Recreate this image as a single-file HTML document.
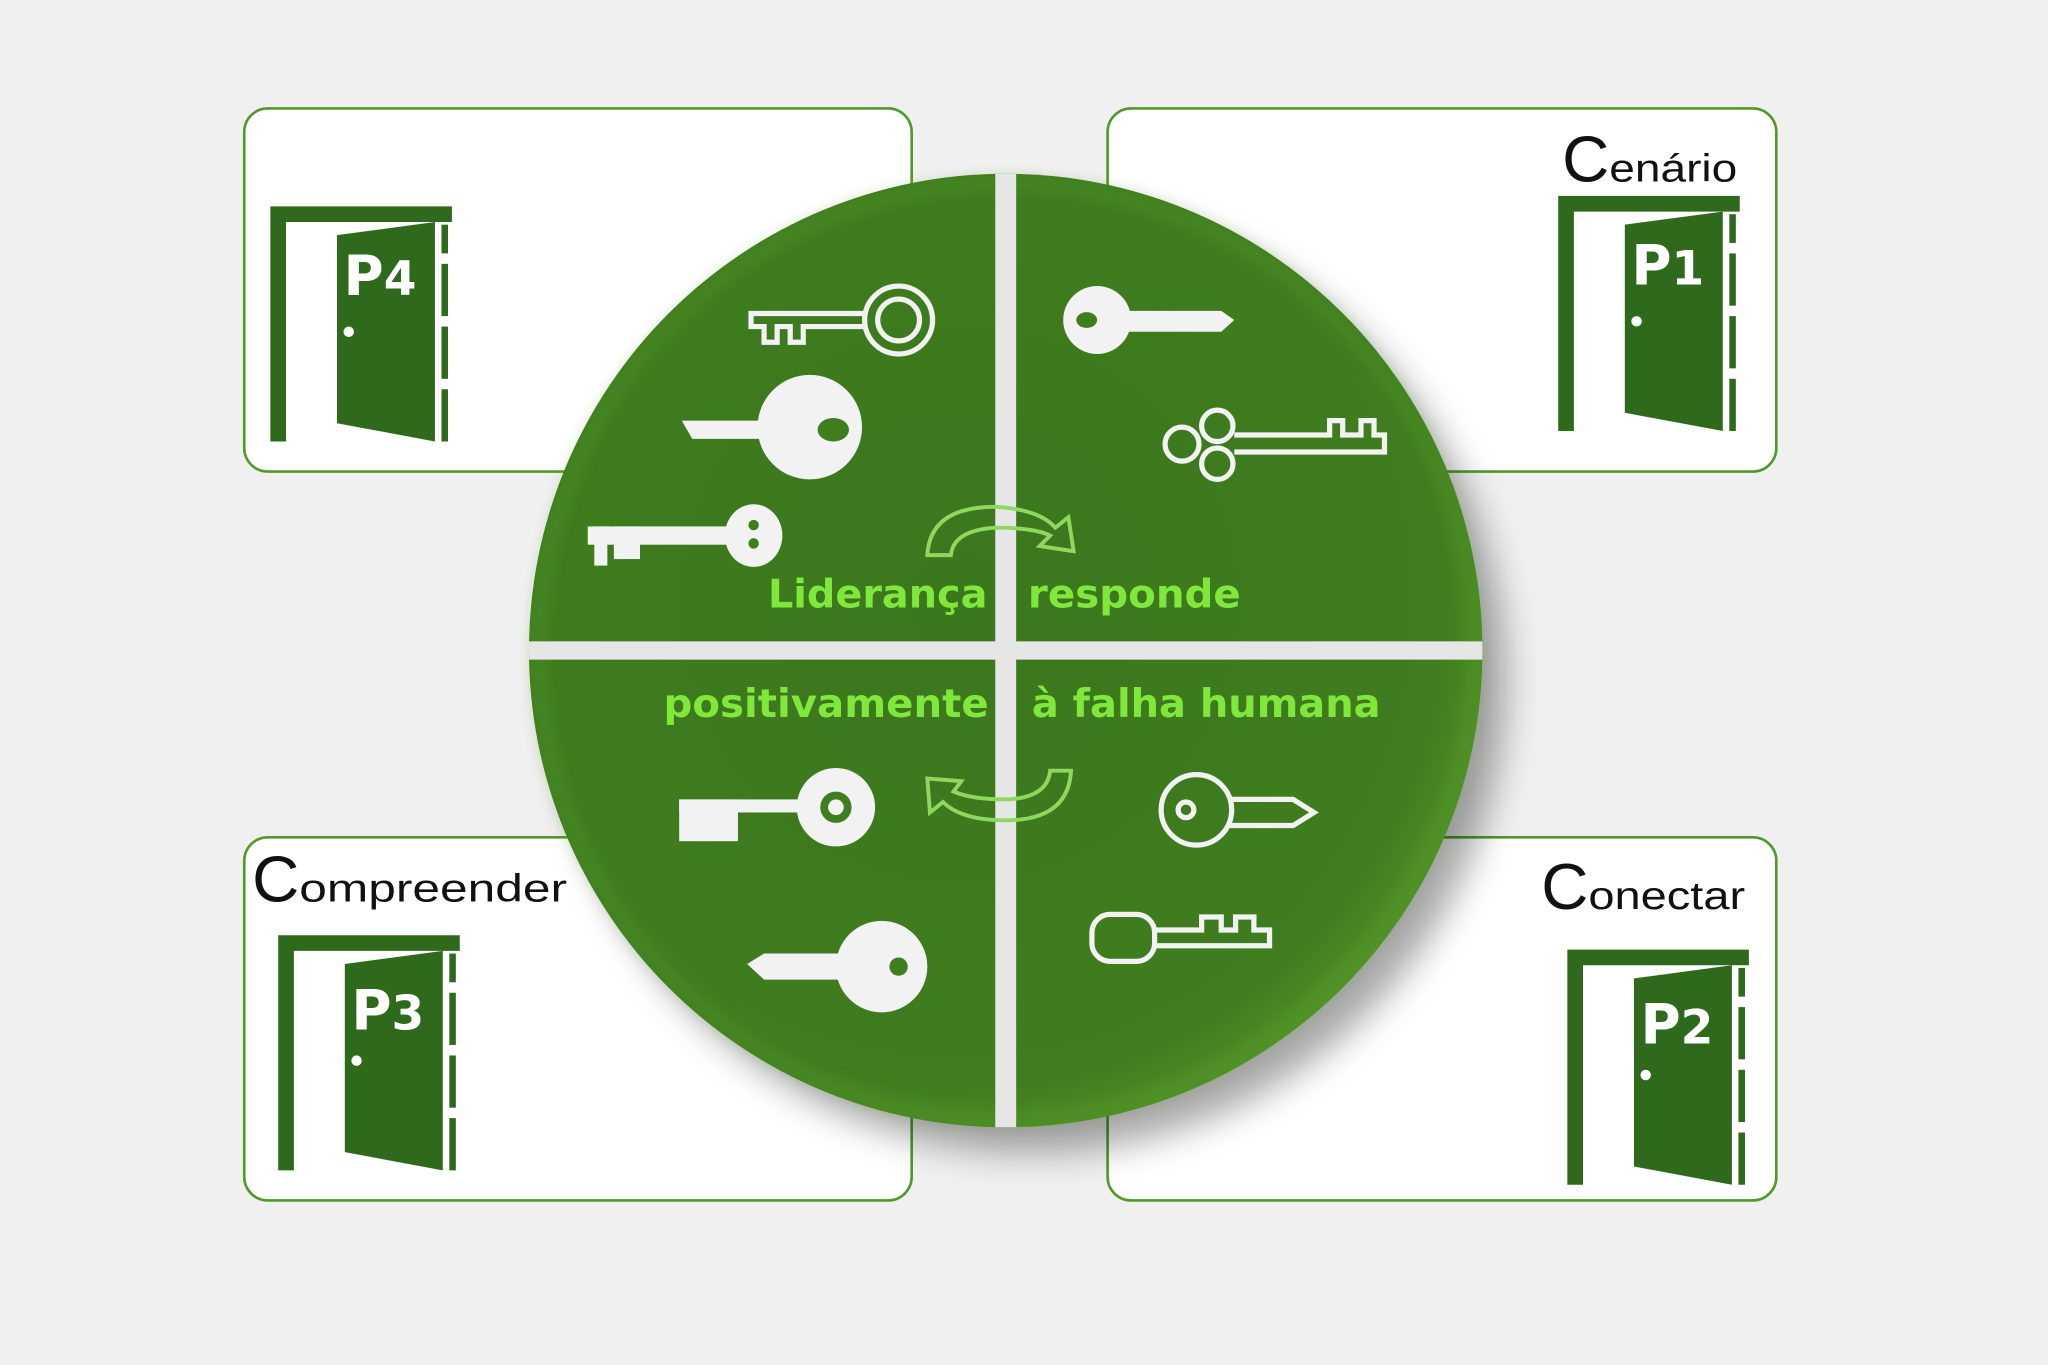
<!DOCTYPE html>
<html><head><meta charset="utf-8"><style>
html,body{margin:0;padding:0;background:#f0f0f0;}
svg{display:block}
</style></head><body>
<svg width="2048" height="1365" viewBox="0 0 1568 1045" preserveAspectRatio="none" xmlns="http://www.w3.org/2000/svg">
<defs>
<radialGradient id="g" cx="0.45" cy="0.45" r="0.6">
<stop offset="0" stop-color="#3b771d"/><stop offset="0.85" stop-color="#3f7d1f"/><stop offset="1" stop-color="#579a2a"/>
</radialGradient>
<filter id="sh" x="-20%" y="-20%" width="150%" height="150%"><feGaussianBlur stdDeviation="14"/></filter>
<filter id="sh2" x="-20%" y="-20%" width="150%" height="150%"><feGaussianBlur stdDeviation="6"/></filter>
<clipPath id="cc"><circle cx="770" cy="498" r="365"/></clipPath>
<g id="door">
<path d="M0 0H139V12H12V180H0Z" fill="#2f6a1c"/>
<path d="M51 22L126 12V180L51 166Z" fill="#2f6a1c"/>
<rect x="131" y="14" width="5" height="22" fill="#2f6a1c"/><rect x="131" y="44" width="5" height="40" fill="#2f6a1c"/><rect x="131" y="92" width="5" height="40" fill="#2f6a1c"/><rect x="131" y="140" width="5" height="40" fill="#2f6a1c"/>
<circle cx="60" cy="96" r="4" fill="#fff"/>
</g>
</defs>
<rect width="1568" height="1045" fill="#f0f0f0"/>
<g fill="#fff" stroke="#4f9a2a" stroke-width="2">
<rect x="187" y="83" width="511" height="278" rx="18"/>
<rect x="848" y="83" width="512" height="278" rx="18"/>
<rect x="187" y="641" width="511" height="278" rx="18"/>
<rect x="848" y="641" width="512" height="278" rx="18"/>
</g>
<g transform="translate(207,158)"><use href="#door"/><text x="56" y="68" font-family="DejaVu Sans, sans-serif" font-weight="bold" font-size="42" fill="#fff">P<tspan font-size="36">4</tspan></text></g>
<g transform="translate(1193,150)"><use href="#door"/><text x="56" y="68" font-family="DejaVu Sans, sans-serif" font-weight="bold" font-size="42" fill="#fff">P<tspan font-size="36">1</tspan></text></g>
<g transform="translate(213,716)"><use href="#door"/><text x="56" y="72" font-family="DejaVu Sans, sans-serif" font-weight="bold" font-size="42" fill="#fff">P<tspan font-size="36">3</tspan></text></g>
<g transform="translate(1200,727)"><use href="#door"/><text x="56" y="72" font-family="DejaVu Sans, sans-serif" font-weight="bold" font-size="42" fill="#fff">P<tspan font-size="36">2</tspan></text></g>
<g font-family="Liberation Sans, sans-serif" fill="#111">
<text x="1196" y="139" font-size="50">C<tspan font-size="30" textLength="98" lengthAdjust="spacingAndGlyphs">enário</tspan></text>
<text x="193" y="690" font-size="50">C<tspan font-size="30" textLength="205" lengthAdjust="spacingAndGlyphs">ompreender</tspan></text>
<text x="1180" y="696" font-size="50">C<tspan font-size="30" textLength="120" lengthAdjust="spacingAndGlyphs">onectar</tspan></text>
</g>
<circle cx="790" cy="520" r="362" fill="#000" opacity="0.35" filter="url(#sh)"/>
<circle cx="770" cy="498" r="365" fill="url(#g)"/>
<circle cx="770" cy="498" r="358" fill="none" stroke="#5aa02c" stroke-width="5" opacity="0.6" filter="url(#sh2)"/>
<g clip-path="url(#cc)">
<rect x="762" y="120" width="16" height="760" fill="#e6e6e6"/>
<rect x="395" y="491" width="760" height="14" fill="#e6e6e6"/>
</g>
<g fill="#f2f2f2" stroke="none">
<circle cx="620" cy="327" r="40"/><path d="M522 322H590V336H530Z"/>
<ellipse cx="638" cy="329" rx="12" ry="9" fill="#3f7d1f"/>
<ellipse cx="577" cy="410" rx="22" ry="24"/><rect x="450" y="403" width="115" height="14"/><rect x="455" y="403" width="10" height="30"/><rect x="470" y="403" width="20" height="25"/>
<circle cx="577" cy="402" r="4" fill="#3f7d1f"/><circle cx="577" cy="416" r="4" fill="#3f7d1f"/>
<circle cx="840" cy="245" r="26"/><path d="M860 238H935L945 245L935 254H860Z"/>
<ellipse cx="832" cy="245" rx="8" ry="6" fill="#3f7d1f"/>
<circle cx="675" cy="740" r="35"/><path d="M572 738L585 730H645V750H585Z"/>
<circle cx="688" cy="740" r="7" fill="#3f7d1f"/>
<circle cx="640" cy="618" r="30"/><rect x="520" y="612" width="100" height="10"/><rect x="520" y="612" width="45" height="32"/>
<circle cx="640" cy="618" r="12" fill="#3f7d1f"/><circle cx="640" cy="618" r="6"/>
</g>
<g fill="none" stroke="#f2f2f2" stroke-width="4">
<circle cx="688" cy="245" r="26"/><circle cx="688" cy="245" r="16"/>
<path d="M662 240H575V250H585V262H595V250H605V262H615V250H662"/>
<circle cx="905" cy="340" r="13"/><circle cx="932" cy="326" r="12"/><circle cx="932" cy="355" r="12"/>
<path d="M945 333H1018V322H1028V333H1042V322H1052V333H1060V346H945"/>
<circle cx="916" cy="620" r="27"/><circle cx="908" cy="620" r="6"/>
<path d="M941 612H990L1006 622L990 632H941"/>
<rect x="836" y="700" width="48" height="36" rx="14"/>
<path d="M884 712H920V702H935V712H946V702H960V712H972V724H884"/>
</g>
<g fill="none" stroke="#8fd860" stroke-width="3">
<path d="M710 425Q712 388 762 388Q796 390 808 404L818 396L822 422L796 418L804 410Q792 404 762 404Q730 406 728 425Z"/>
<path d="M820 590Q818 628 770 628Q736 628 722 614L712 622L710 596L736 598L730 606Q744 612 770 612Q802 611 804 590Z"/>
</g>
<g font-family="DejaVu Sans, sans-serif" font-weight="bold" font-size="30" fill="#7fe83a">
<text x="588" y="465" textLength="168" lengthAdjust="spacingAndGlyphs">Liderança</text>
<text x="787" y="465" textLength="163" lengthAdjust="spacingAndGlyphs">responde</text>
<text x="508" y="549" textLength="249" lengthAdjust="spacingAndGlyphs">positivamente</text>
<text x="790" y="549" textLength="267" lengthAdjust="spacingAndGlyphs">à falha humana</text>
</g>
</svg>
</body></html>
